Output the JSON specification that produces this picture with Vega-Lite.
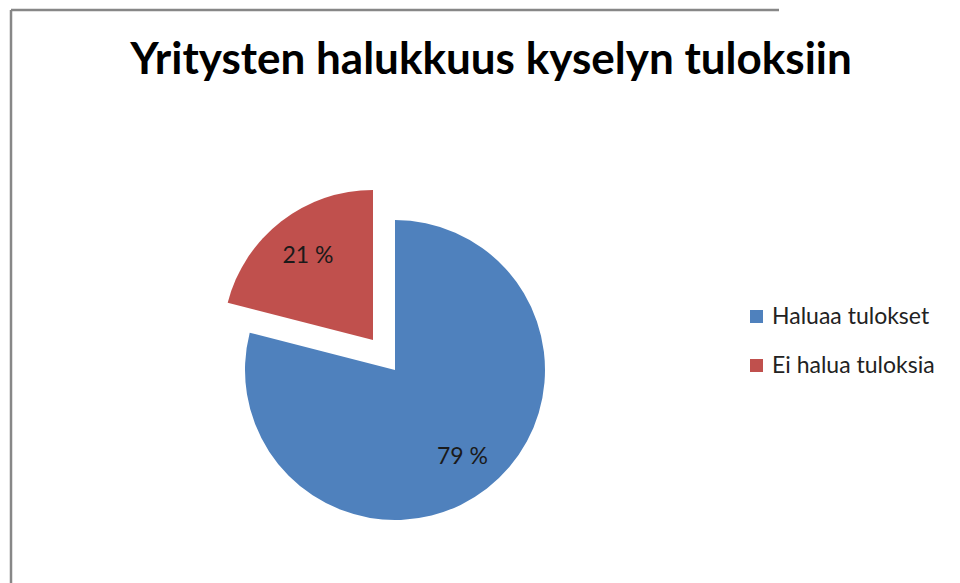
{
  "$schema": "https://vega.github.io/schema/vega-lite/v6.json",
  "autosize": {"type": "none"},
  "width": 768,
  "height": 720,
  "padding": {"left": 11, "top": 10, "right": 181, "bottom": 0},
  "background": "white",
  "view": {"stroke": "#878787", "strokeWidth": 2.5, "strokeDash": [768, 1488, 720, 0]},
  "title": {
    "text": "Yritysten halukkuus kyselyn tuloksiin",
    "font": "Lato",
    "fontSize": 44,
    "fontWeight": "bold",
    "color": "#000000",
    "anchor": "middle",
    "frame": "group",
    "offset": -73,
    "dx": 96
  },
  "config": {
    "legend": {
      "labelFont": "Lato",
      "labelFontSize": 23,
      "labelColor": "#222222",
      "symbolType": "square",
      "symbolSize": 169,
      "symbolStrokeWidth": 0,
      "rowPadding": 25,
      "labelOffset": 4,
      "padding": 0,
      "labelLimit": 300
    }
  },
  "data": {
    "values": [
      {"group": "Haluaa tulokset", "value": 79, "order": 1, "text": "79 %"},
      {"group": "Ei halua tuloksia", "value": 21, "order": 2, "text": "21 %"}
    ]
  },
  "encoding": {
    "theta": {"field": "value", "type": "quantitative", "stack": true},
    "order": {"field": "order", "type": "quantitative"}
  },
  "layer": [
    {
      "mark": {"type": "arc", "outerRadius": 150},
      "encoding": {
        "color": {
          "field": "group",
          "type": "nominal",
          "sort": ["Haluaa tulokset", "Ei halua tuloksia"],
          "scale": {"domain": ["Haluaa tulokset", "Ei halua tuloksia"], "range": ["#4F81BD", "#C0504D"]},
          "legend": {"title": null, "orient": "none", "legendX": 734, "legendY": 295}
        },
        "fillOpacity": {"condition": {"test": "datum.group === 'Haluaa tulokset'", "value": 1}, "value": 0}
      }
    },
    {
      "mark": {"type": "arc", "outerRadius": 150, "xOffset": -22, "yOffset": -30},
      "encoding": {
        "color": {"field": "group", "type": "nominal", "sort": ["Haluaa tulokset", "Ei halua tuloksia"], "legend": null},
        "fillOpacity": {"condition": {"test": "datum.group === 'Ei halua tuloksia'", "value": 1}, "value": 0}
      }
    },
    {
      "mark": {"type": "text", "radius": 110, "font": "Lato", "fontSize": 23, "color": "#1a1a1a"},
      "encoding": {
        "text": {"field": "text", "type": "nominal"},
        "opacity": {"condition": {"test": "datum.group === 'Haluaa tulokset'", "value": 1}, "value": 0}
      }
    },
    {
      "mark": {"type": "text", "radius": 106, "font": "Lato", "fontSize": 23, "color": "#1a1a1a", "xOffset": -22, "yOffset": -30},
      "encoding": {
        "text": {"field": "text", "type": "nominal"},
        "opacity": {"condition": {"test": "datum.group === 'Ei halua tuloksia'", "value": 1}, "value": 0}
      }
    }
  ]
}
